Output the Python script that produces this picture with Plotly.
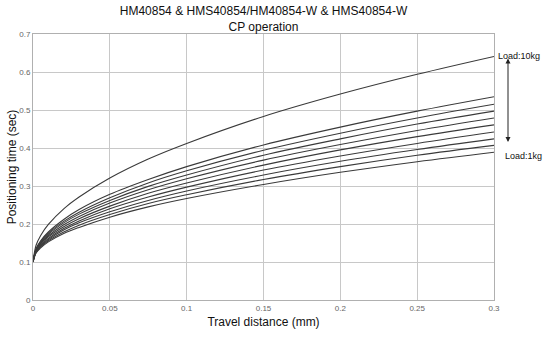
import plotly.graph_objects as go

# Travel distance (mm)
x_vals = [0, 0.002, 0.005, 0.01, 0.02, 0.03, 0.05, 0.075, 0.1, 0.15, 0.2, 0.25, 0.3]

# Positioning time (sec), load 10kg ... 1kg
load_10kg = [0.1, 0.144, 0.170, 0.199, 0.240, 0.271, 0.321, 0.371, 0.412, 0.483, 0.542, 0.594, 0.641]
load_9kg = [0.1, 0.135, 0.156, 0.179, 0.212, 0.238, 0.278, 0.317, 0.351, 0.408, 0.455, 0.497, 0.535]
load_8kg = [0.1, 0.134, 0.154, 0.176, 0.207, 0.231, 0.269, 0.308, 0.340, 0.394, 0.439, 0.479, 0.515]
load_7kg = [0.1, 0.132, 0.151, 0.173, 0.203, 0.226, 0.262, 0.299, 0.329, 0.381, 0.424, 0.463, 0.497]
load_6kg = [0.1, 0.131, 0.149, 0.169, 0.198, 0.220, 0.255, 0.290, 0.319, 0.368, 0.409, 0.446, 0.479]
load_5kg = [0.1, 0.130, 0.147, 0.166, 0.193, 0.214, 0.247, 0.281, 0.308, 0.355, 0.395, 0.430, 0.461]
load_4kg = [0.1, 0.128, 0.144, 0.162, 0.188, 0.208, 0.240, 0.271, 0.297, 0.342, 0.379, 0.412, 0.442]
load_3kg = [0.1, 0.126, 0.142, 0.159, 0.184, 0.203, 0.232, 0.262, 0.287, 0.329, 0.365, 0.396, 0.424]
load_2kg = [0.1, 0.125, 0.140, 0.156, 0.179, 0.197, 0.225, 0.254, 0.277, 0.317, 0.351, 0.381, 0.407]
load_1kg = [0.1, 0.124, 0.137, 0.153, 0.175, 0.191, 0.218, 0.245, 0.267, 0.304, 0.336, 0.364, 0.389]

series = [load_10kg, load_9kg, load_8kg, load_7kg, load_6kg,
          load_5kg, load_4kg, load_3kg, load_2kg, load_1kg]

x_ticks = [0, 0.05, 0.1, 0.15, 0.2, 0.25, 0.3]
x_tick_labels = ["0", "0.05", "0.1", "0.15", "0.2", "0.25", "0.3"]
y_ticks = [0, 0.1, 0.2, 0.3, 0.4, 0.5, 0.6, 0.7]
y_tick_labels = ["0", "0.1", "0.2", "0.3", "0.4", "0.5", "0.6", "0.7"]

fig = go.Figure()
for s in series:
    fig.add_trace(go.Scatter(x=x_vals, y=s, mode="lines",
                             line=dict(color="#3a3a3a", width=1.1, shape="spline", smoothing=1.0),
                             showlegend=False, hoverinfo="skip"))

font_family = "Liberation Sans"

fig.update_layout(
    width=551, height=351,
    margin=dict(l=33, r=57, t=34, b=51),
    paper_bgcolor="white", plot_bgcolor="white",
    font=dict(family=font_family, color="black"),
    title=dict(text="HM40854 & HMS40854/HM40854-W & HMS40854-W<br>CP operation",
               x=(33 + 494) / 2 / 551, xanchor="center", y=1 - 15 / 351, yanchor="middle",
               font=dict(size=12, color="#111")),
    xaxis=dict(range=[0, 0.3], tickvals=x_ticks, ticktext=x_tick_labels,
               showgrid=True, gridcolor="#c8c8c8", gridwidth=1,
               showline=True, linecolor="#b0b0b0", mirror=True, zeroline=False,
               ticks="", tickfont=dict(size=8, color="#666"),
               title=dict(text="Travel distance (mm)", font=dict(size=12, color="#111"), standoff=6)),
    yaxis=dict(range=[0, 0.7], tickvals=y_ticks, ticktext=y_tick_labels,
               showgrid=True, gridcolor="#c8c8c8", gridwidth=1,
               showline=True, linecolor="#b0b0b0", mirror=True, zeroline=False,
               ticks="", tickfont=dict(size=8, color="#666"),
               title=dict(text="Positioning time (sec)", font=dict(size=12, color="#111"), standoff=0)),
)

# Double-headed arrow between load labels (paper coordinates, right of plot)
fig.add_annotation(x=1.0304, y=0.416 / 0.7, xref="paper", yref="paper",
                   ax=0, ay=-85, axref="pixel", ayref="pixel",
                   text="", showarrow=True, arrowhead=2, arrowside="end+start",
                   arrowsize=1, arrowwidth=1, arrowcolor="#222")
fig.add_annotation(x=1.0553, y=0.642 / 0.7, xref="paper", yref="paper", text="Load:10kg",
                   showarrow=False, xanchor="center", yanchor="middle",
                   font=dict(size=9, color="#111", family=font_family))
fig.add_annotation(x=1.063, y=0.378 / 0.7, xref="paper", yref="paper", text="Load:1kg",
                   showarrow=False, xanchor="center", yanchor="middle",
                   font=dict(size=9, color="#111", family=font_family))

fig.write_html("out.html")
